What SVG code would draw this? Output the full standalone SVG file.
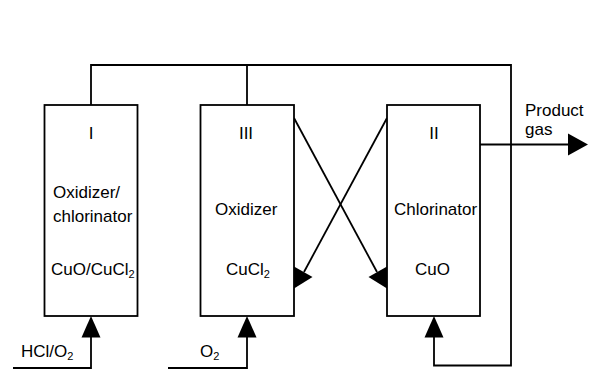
<svg xmlns="http://www.w3.org/2000/svg" width="593" height="370" viewBox="0 0 593 370">
<style>
.box{fill:#fff;stroke:#000;stroke-width:1.8}
.ln{fill:none;stroke:#000;stroke-width:1.8}
.ah{fill:#000;stroke:none}
text{font-family:"Liberation Sans",Arial,sans-serif;font-size:17px;fill:#000}
.sub{font-size:11px}
</style>
<rect width="593" height="370" fill="#fff"/>
<g id="connectors">
<polyline class="ln" points="91,105 91,65 511,65 511,365.5 434,365.5 434,336"/>
<line class="ln" x1="247" y1="65" x2="247" y2="105"/>
<line class="ln" x1="480" y1="144.5" x2="569" y2="144.5"/>
<polygon class="ah" points="568,133.5 588,144.5 568,155.5"/>
<polyline class="ln" points="13,368 91,368 91,336"/>
<polygon class="ah" points="91,316 100.5,337.5 81.5,337.5"/>
<polyline class="ln" points="168,368 247,368 247,336"/>
<polygon class="ah" points="247,316 256.5,337.5 237.5,337.5"/>
<polygon class="ah" points="434,316 443.5,337.5 424.5,337.5"/>
<line class="ln" x1="294" y1="118" x2="377" y2="272"/>
<polygon class="ah" points="368.5,277 387,266.5 387,288.5"/>
<line class="ln" x1="387" y1="118" x2="304" y2="272"/>
<polygon class="ah" points="312.5,277 294,266.5 294,288.5"/>
</g>
<g id="nodeI">
<rect class="box" x="44.5" y="105" width="93" height="211"/>
<text x="91" y="139" text-anchor="middle">I</text>
<text x="53" y="198">Oxidizer/</text>
<text x="53" y="222">chlorinator</text>
<text x="51" y="275">CuO/CuCl<tspan class="sub" dy="3">2</tspan></text>
</g>
<g id="nodeIII">
<rect class="box" x="200.5" y="105" width="93.5" height="211"/>
<text x="246" y="139" text-anchor="middle">III</text>
<text x="215" y="215">Oxidizer</text>
<text x="226" y="275">CuCl<tspan class="sub" dy="3">2</tspan></text>
</g>
<g id="nodeII">
<rect class="box" x="387" y="105" width="93" height="211"/>
<text x="434" y="139" text-anchor="middle">II</text>
<text x="394" y="215">Chlorinator</text>
<text x="415" y="275">CuO</text>
</g>
<g id="labels">
<text x="525" y="116">Product</text>
<text x="525" y="135">gas</text>
<text x="21" y="357">HCl/O<tspan class="sub" dy="3">2</tspan></text>
<text x="200" y="357">O<tspan class="sub" dy="3">2</tspan></text>
</g>
</svg>
